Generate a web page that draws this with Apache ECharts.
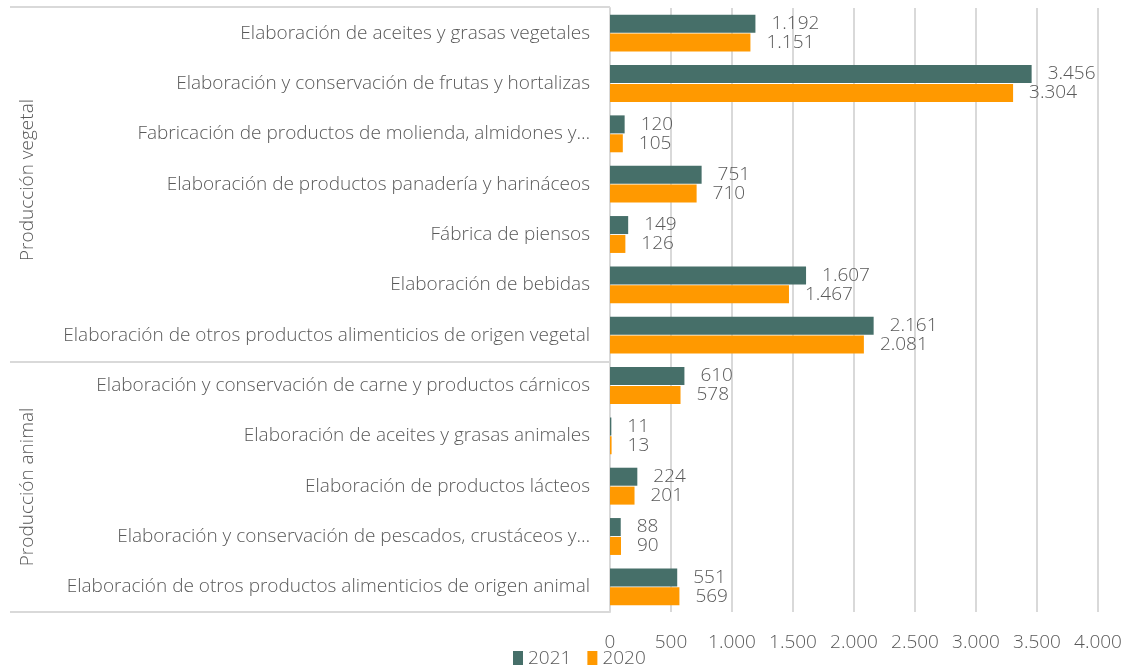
<!DOCTYPE html>
<html>
<head>
<meta charset="utf-8">
<style>
  html, body { margin: 0; padding: 0; background: #fff; }
  #chart { width: 1127px; height: 665px; }
</style>
<script src="https://cdn.jsdelivr.net/npm/echarts@6/dist/echarts.min.js"></script>
</head>
<body>
<div id="chart"></div>
<script>
const categories = [
  "Elaboración de aceites y grasas vegetales",
  "Elaboración y conservación de frutas y hortalizas",
  "Fabricación de productos de molienda, almidones y…",
  "Elaboración de productos panadería y harináceos",
  "Fábrica de piensos",
  "Elaboración de bebidas",
  "Elaboración de otros productos alimenticios de origen vegetal",
  "Elaboración y conservación de carne y productos cárnicos",
  "Elaboración de aceites y grasas animales",
  "Elaboración de productos lácteos",
  "Elaboración y conservación de pescados, crustáceos y…",
  "Elaboración de otros productos alimenticios de origen animal"
];
const groups = ["Producción vegetal", "Producción animal"];
const values2021 = [1192, 3456, 120, 751, 149, 1607, 2161, 610, 11, 224, 88, 551];
const values2020 = [1151, 3304, 105, 710, 126, 1467, 2081, 578, 13, 201, 90, 569];

const FONT = "Open Sans";
const GRAY = "#595959";
const W = 300;
const FS = 19;

function fmt(v) {
  return String(v).replace(/\B(?=(\d{3})+(?!\d))/g, ".");
}

const chart = echarts.init(document.getElementById("chart"));

const valueLabel = {
  show: true, position: "right", distance: 16,
  color: GRAY, fontSize: FS, fontWeight: W, fontFamily: FONT,
  formatter: p => fmt(p.value)
};

chart.setOption({
  animation: false,
  textStyle: { fontFamily: FONT },
  color: ["#466f69", "#ff9900"],
  grid: { left: 610, right: 29, top: 8, bottom: 53, containLabel: false },
  legend: {
    data: ["2021", "2020"],
    left: 508,
    top: 644,
    itemWidth: 10,
    itemHeight: 15,
    itemGap: 16,
    icon: "rect",
    textStyle: { color: GRAY, fontSize: FS, fontWeight: W, fontFamily: FONT }
  },
  xAxis: {
    type: "value",
    min: 0,
    max: 4000,
    interval: 500,
    axisLine: { show: false },
    axisTick: { show: false },
    axisLabel: { color: GRAY, fontSize: FS, fontWeight: W, margin: 21, formatter: fmt },
    splitLine: { lineStyle: { color: "#d9d9d9", width: 2 } }
  },
  yAxis: {
    type: "category",
    inverse: true,
    data: categories,
    axisLine: { show: true, lineStyle: { color: "#d9d9d9", width: 2 } },
    axisTick: { show: false },
    axisLabel: { color: GRAY, fontSize: FS, fontWeight: W, margin: 20 }
  },
  series: [
    {
      name: "2021",
      type: "bar",
      data: values2021,
      barWidth: 18,
      barGap: "5%",
      itemStyle: { color: "#466f69" },
      label: valueLabel
    },
    {
      name: "2020",
      type: "bar",
      data: values2020,
      barWidth: 18,
      itemStyle: { color: "#ff9900" },
      label: valueLabel
    }
  ],
  graphic: [
    { type: "line", shape: { x1: 10, y1: 7, x2: 610, y2: 7 }, style: { stroke: "#d9d9d9", lineWidth: 2 } },
    { type: "line", shape: { x1: 10, y1: 362, x2: 610, y2: 362 }, style: { stroke: "#d9d9d9", lineWidth: 2 } },
    { type: "line", shape: { x1: 10, y1: 612, x2: 610, y2: 612 }, style: { stroke: "#d9d9d9", lineWidth: 2 } },
    {
      type: "text", x: 28, y: 180, rotation: Math.PI / 2,
      style: { text: groups[0], fill: GRAY, font: W + " " + FS + "px '" + FONT + "'", align: "center", verticalAlign: "middle" }
    },
    {
      type: "text", x: 28, y: 487, rotation: Math.PI / 2,
      style: { text: groups[1], fill: GRAY, font: W + " " + FS + "px '" + FONT + "'", align: "center", verticalAlign: "middle" }
    }
  ]
});
</script>
</body>
</html>
